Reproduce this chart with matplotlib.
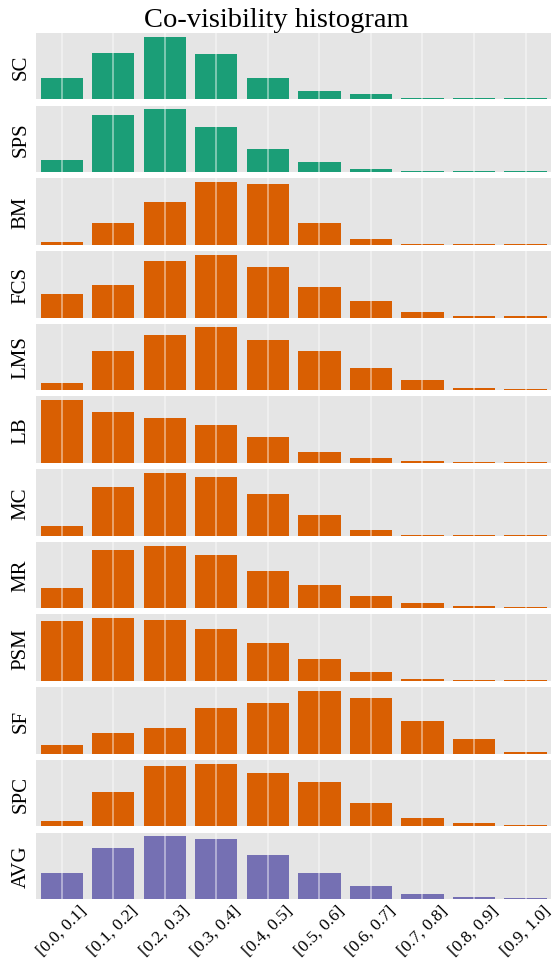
import numpy as np
import matplotlib
matplotlib.use("Agg")
import matplotlib.pyplot as plt

bins = ["[0.0, 0.1]", "[0.1, 0.2]", "[0.2, 0.3]", "[0.3, 0.4]", "[0.4, 0.5]",
        "[0.5, 0.6]", "[0.6, 0.7]", "[0.7, 0.8]", "[0.8, 0.9]", "[0.9, 1.0]"]

methods = ["SC", "SPS", "BM", "FCS", "LMS", "LB", "MC", "MR", "PSM", "SF", "SPC", "AVG"]

# share of image pairs per co-visibility bin (percent)
sc  = [9.7, 21.7, 29.0, 21.2, 10.1, 4.1, 2.3, 0.9, 0.5, 0.5]
sps = [5.6, 26.8, 29.5, 21.2, 11.1, 4.6, 1.4, 0.5, 0.4, 0.4]
bm  = [1.4, 10.2, 19.9, 29.2, 28.2, 10.2, 2.8, 0.5, 0.2, 0.2]
fcs = [8.5, 11.7, 20.2, 22.3, 18.1, 11.0, 5.7, 2.1, 0.7, 0.4]
lms = [2.4, 13.9, 19.8, 22.3, 17.7, 13.9, 8.0, 3.5, 0.7, 0.3]
lb  = [25.2, 20.4, 18.0, 15.2, 10.4, 4.4, 2.0, 0.8, 0.4, 0.2]
mc  = [3.9, 19.2, 24.7, 23.1, 16.4, 8.2, 2.3, 0.4, 0.4, 0.4]
mr  = [7.2, 21.3, 22.8, 19.5, 13.4, 8.3, 4.3, 1.8, 0.7, 0.4]
psm = [19.6, 20.6, 19.9, 17.0, 12.4, 7.2, 2.9, 0.7, 0.3, 0.2]
sf  = [2.7, 6.3, 7.8, 13.8, 15.3, 18.9, 16.8, 9.9, 4.5, 0.6]
spc = [1.7, 11.8, 20.6, 21.3, 18.2, 15.2, 7.8, 3.0, 1.0, 0.3]
avg = [8.8, 17.2, 21.3, 20.3, 14.9, 8.8, 4.4, 1.7, 0.7, 0.2]

series = [sc, sps, bm, fcs, lms, lb, mc, mr, psm, sf, spc, avg]
colors = ["#1b9e77", "#1b9e77"] + ["#d95f02"] * 9 + ["#7570b3"]

plt.rcParams["font.family"] = ["Liberation Serif", "DejaVu Serif"]

fig, axes = plt.subplots(len(methods), 1, figsize=(5.53, 9.62), dpi=100, sharex=True)
fig.subplots_adjust(left=0.065, right=0.997, top=0.9647, bottom=0.0644, hspace=0.093)

x = np.arange(len(bins))
for ax, name, vals, col in zip(axes, methods, series, colors):
    ax.set_facecolor("#e5e5e5")
    ax.bar(x, vals, width=0.82, color=col, zorder=1)
    ax.set_xlim(-0.5, len(bins) - 0.5)
    ax.set_ylim(0, max(vals) * 1.06)
    ax.set_xticks(x)
    ax.set_yticks([])
    ax.grid(axis="x", color="white", linewidth=1.1, alpha=0.55, zorder=2)
    ax.set_axisbelow(False)
    for s in ax.spines.values():
        s.set_visible(False)
    ax.tick_params(axis="both", length=0)
    ax.set_ylabel(name, fontsize=15, labelpad=4)

axes[-1].set_xticklabels(bins, rotation=45, ha="center", fontsize=12.5)
axes[-1].tick_params(axis="x", pad=2)
fig.text(0.5, 0.979, "Co-visibility histogram", fontsize=20.5, ha="center", va="center")

fig.savefig("out.png", dpi=100)
